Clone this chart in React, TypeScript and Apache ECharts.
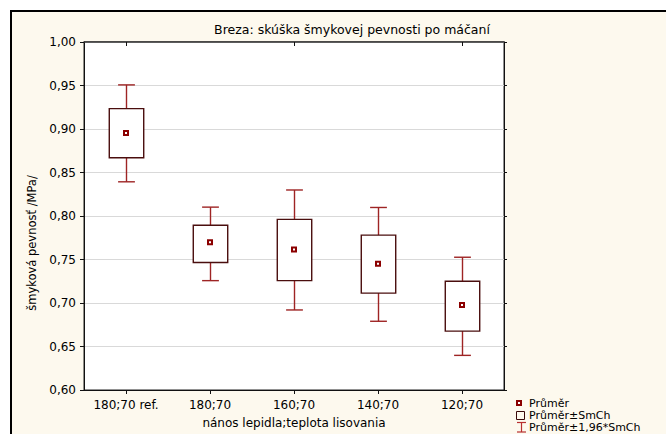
import React, { useEffect, useRef } from 'react';
import * as echarts from 'echarts';

const titleText = 'Breza: skúška šmykovej pevnosti po máčaní';
const xName = 'nános lepidla;teplota lisovania';
const yName = 'šmyková pevnosť /MPa/';
const categories = ['180;70 ref.', '180;70', '160;70', '140;70', '120;70'];
const means = [0.8955, 0.7697, 0.7614, 0.745, 0.6977];
const seLow = [0.867, 0.7466, 0.7257, 0.7114, 0.6677];
const seHigh = [0.9234, 0.7893, 0.7961, 0.778, 0.725];
const ciLow = [0.8393, 0.7257, 0.692, 0.679, 0.6398];
const ciHigh = [0.9507, 0.8102, 0.8299, 0.8098, 0.7526];
const legendLabels = ['Průměr', 'Průměr±SmCh', 'Průměr±1,96*SmCh'];

const FONT = 'DejaVu Sans';
const CREAM = '#fdf9ee';

export default function App() {
  const ref = useRef<HTMLDivElement>(null);
  useEffect(() => {
    const chart = echarts.init(ref.current!, null, { renderer: 'svg' });
    const boxData = categories.map((c, i) => [i, ciLow[i], seLow[i], means[i], seHigh[i], ciHigh[i]]);
    const meanData = categories.map((c, i) => [i, means[i]]);
    const whiskerColor = '#9e2424';
    const boxColor = '#4a0e0e';

    const option: any = {
      animation: false,
      backgroundColor: CREAM,
      textStyle: { fontFamily: FONT },
      title: {
        text: titleText,
        left: 347,
        top: 18,
        textAlign: 'center',
        textStyle: { fontSize: 12.5, fontWeight: 'normal', color: '#000', fontFamily: FONT },
      },
      grid: {
        left: 84, top: 42, width: 420, height: 352,
        show: true, backgroundColor: '#ffffff', borderColor: '#222', borderWidth: 1,
      },
      xAxis: [
        {
          type: 'category', data: categories, position: 'bottom',
          axisLine: { show: true, lineStyle: { color: '#111', width: 1 } },
          axisTick: { show: true, alignWithLabel: true, length: 4, lineStyle: { color: '#111' } },
          axisLabel: { interval: 0, margin: 9, color: '#000', fontSize: 12, fontFamily: FONT },
          splitLine: { show: false },
          name: xName, nameLocation: 'middle', nameGap: 27,
          nameTextStyle: { color: '#000', fontSize: 12, fontFamily: FONT },
        },
        {
          type: 'category', data: categories, position: 'top',
          axisLine: { show: true, lineStyle: { color: '#333', width: 1.5 } },
          axisTick: { show: true, alignWithLabel: true, inside: true, length: 4, lineStyle: { color: '#111' } },
          axisLabel: { show: false },
          splitLine: { show: false },
        },
      ],
      yAxis: [
        {
          type: 'value', min: 0.6, max: 1.0, interval: 0.05, position: 'left',
          axisLine: { show: true, lineStyle: { color: '#111', width: 1 } },
          axisTick: { show: true, length: 4, lineStyle: { color: '#111' } },
          axisLabel: {
            margin: 8, color: '#000', fontSize: 12, fontFamily: FONT,
            formatter: (v: number) => v.toFixed(2).replace('.', ','),
          },
          splitLine: { show: true, lineStyle: { color: '#d9d9d9', width: 1 } },
        },
        {
          type: 'value', min: 0.6, max: 1.0, interval: 0.05, position: 'right',
          axisLine: { show: true, lineStyle: { color: '#111', width: 1 } },
          axisTick: { show: true, length: 3, lineStyle: { color: '#111' } },
          axisLabel: { show: false },
          splitLine: { show: false },
        },
      ],
      series: [
        {
          type: 'custom',
          xAxisIndex: 0, yAxisIndex: 0,
          data: boxData,
          encode: { x: 0, y: [1, 5] },
          renderItem: (params: any, api: any) => {
            const idx = api.value(0);
            const band = api.size([1, 0])[0];
            const bw = band * 0.41;
            const cw = band * 0.2;
            const cx = Math.round(api.coord([idx, api.value(3)])[0]) + 0.5;
            const yCL = api.coord([idx, api.value(1)])[1];
            const ySL = api.coord([idx, api.value(2)])[1];
            const ySH = api.coord([idx, api.value(4)])[1];
            const yCH = api.coord([idx, api.value(5)])[1];
            const ws = { stroke: whiskerColor, lineWidth: 1.4, fill: null };
            return {
              type: 'group',
              children: [
                { type: 'line', shape: { x1: cx, y1: yCH, x2: cx, y2: ySH }, style: ws },
                { type: 'line', shape: { x1: cx - cw / 2, y1: yCH, x2: cx + cw / 2, y2: yCH }, style: ws },
                { type: 'line', shape: { x1: cx, y1: ySL, x2: cx, y2: yCL }, style: ws },
                { type: 'line', shape: { x1: cx - cw / 2, y1: yCL, x2: cx + cw / 2, y2: yCL }, style: ws },
                {
                  type: 'rect',
                  shape: { x: cx - bw / 2, y: ySH, width: bw, height: ySL - ySH },
                  style: { fill: '#ffffff', stroke: boxColor, lineWidth: 1.4 },
                },
              ],
            };
          },
          z: 2,
        },
        {
          type: 'scatter',
          xAxisIndex: 0, yAxisIndex: 0,
          data: meanData,
          symbol: 'rect',
          symbolSize: 4,
          itemStyle: { color: '#ffffff', borderColor: '#8b0000', borderWidth: 2, opacity: 1 },
          z: 3,
        },
      ],
      graphic: [
        { type: 'rect', shape: { x: 0, y: 0, width: 666, height: 10 }, style: { fill: '#ffffff' }, silent: true },
        { type: 'rect', shape: { x: 0, y: 0, width: 10, height: 434 }, style: { fill: '#ffffff' }, silent: true },
        { type: 'line', shape: { x1: 11, y1: 10, x2: 11, y2: 434 }, style: { stroke: '#000', lineWidth: 2 }, silent: true },
        { type: 'line', shape: { x1: 10, y1: 11, x2: 666, y2: 11 }, style: { stroke: '#000', lineWidth: 2 }, silent: true },
        {
          type: 'text', x: 32, y: 243, rotation: Math.PI / 2,
          style: { text: yName, fill: '#000', font: `11.5px "${FONT}"`, align: 'center', verticalAlign: 'middle' },
        },
        // legend
        { type: 'rect', shape: { x: 517, y: 401, width: 4, height: 4 }, style: { fill: '#fff', stroke: '#8b0000', lineWidth: 2 } },
        { type: 'rect', shape: { x: 516.5, y: 411.5, width: 8, height: 8 }, style: { fill: 'none', stroke: '#3a0a0a', lineWidth: 1 } },
        { type: 'line', shape: { x1: 517, y1: 422.5, x2: 526, y2: 422.5 }, style: { stroke: '#b83030', lineWidth: 1.2 } },
        { type: 'line', shape: { x1: 521.5, y1: 422.5, x2: 521.5, y2: 432 }, style: { stroke: '#b83030', lineWidth: 1.2 } },
        { type: 'line', shape: { x1: 517, y1: 432, x2: 526, y2: 432 }, style: { stroke: '#b83030', lineWidth: 1.2 } },
        ...legendLabels.map((t, i) => ({
          type: 'text', x: 529, y: 403 + i * 12,
          style: { text: t, fill: '#000', font: `11px "${FONT}"`, align: 'left', verticalAlign: 'middle', lineHeight: 11 },
        })),
      ],
    };
    chart.setOption(option);
    return () => chart.dispose();
  }, []);
  return <div ref={ref} style={{ position: 'fixed', left: 0, top: 0, width: 666, height: 434 }} />;
}
